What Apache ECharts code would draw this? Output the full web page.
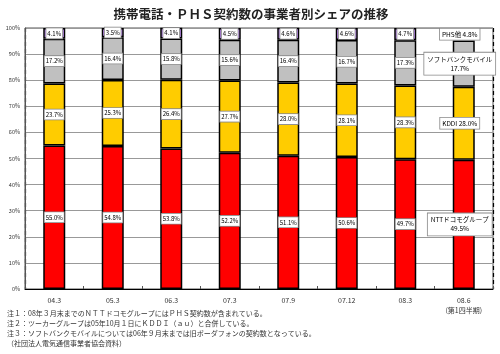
<!DOCTYPE html>
<html>
<head>
<meta charset="utf-8">
<script src="https://cdn.jsdelivr.net/npm/echarts@6/dist/echarts.min.js"></script>
<style>
  html, body { margin: 0; padding: 0; background: #fff; }
  #chart { width: 500px; height: 354px; }
</style>
</head>
<body>
<div id="chart"></div>
<script>
var categories = ['04.3', '05.3', '06.3', '07.3', '07.9', '07.12', '08.3', '08.6\n(第1四半期)'];
var seriesNames = ['NTTドコモグループ', 'KDDI', 'ソフトバンクモバイル', 'PHS他'];
var nttValues = [55.0, 54.8, 53.8, 52.2, 51.1, 50.6, 49.7, 49.5];
var kddiValues = [23.7, 25.3, 26.4, 27.7, 28.0, 28.1, 28.3, 28.0];
var sbValues = [17.2, 16.4, 15.8, 15.6, 16.4, 16.7, 17.3, 17.7];
var phsValues = [4.1, 3.5, 4.1, 4.5, 4.6, 4.6, 4.7, 4.8];
var yTicks = [0, 10, 20, 30, 40, 50, 60, 70, 80, 90, 100];

var colors = ['#ff0000', '#ffcc00', '#c0c0c0', '#cc99ff'];
var notes = [
  '注１：08年３月末までのＮＴＴドコモグループにはＰＨＳ契約数が含まれている。',
  '注２：ツーカーグループは05年10月１日にＫＤＤＩ（ａｕ）と合併している。',
  '注３：ソフトバンクモバイルについては06年９月末までは旧ボーダフォンの契約数となっている。',
  '（社団法人電気通信事業者協会資料）'
];

var lastIdx = categories.length - 1;
var font = '"Noto Sans CJK JP", "Noto Sans", sans-serif';

function makeSeries(name, values, color, idx) {
  return {
    name: name,
    type: 'bar',
    stack: 'share',
    barWidth: 22,
    itemStyle: { color: color, borderColor: '#000', borderWidth: 1.5 },
    label: {
      show: true,
      position: 'inside',
      fontSize: 6,
      fontFamily: font,
      color: '#000',
      backgroundColor: '#fff',
      borderColor: '#888',
      borderWidth: 0.8,
      padding: [1, 1],
      lineHeight: 8,
      align: 'center',
      formatter: function (p) {
        var v = p.value.toFixed(1) + '%';
        if (p.dataIndex === lastIdx) {
          if (idx === 0 || idx === 2) return p.seriesName + '\n' + v;
          return p.seriesName + ' ' + v;
        }
        return v;
      }
    },
    data: values.map(function (v, i) {
      if (i === lastIdx) {
        var big = idx === 0 || idx === 2;
        var item = {
          value: v,
          label: { fontSize: 6.5, lineHeight: 9, padding: big ? [2, 3] : [1, 2], offset: [-4, 0] }
        };
        if (idx === 3) item.itemStyle = { color: 'transparent', borderWidth: 0 };
        return item;
      }
      return v;
    })
  };
}

var chart = echarts.init(document.getElementById('chart'));
chart.setOption({
  animation: false,
  textStyle: { fontFamily: font },
  title: {
    text: '携帯電話・ＰＨＳ契約数の事業者別シェアの推移',
    left: 246,
    textAlign: 'center',
    top: 3,
    textStyle: { fontSize: 12.5, fontWeight: 'bold', color: '#222', fontFamily: font }
  },
  grid: {
    left: 25, right: 7, top: 28, bottom: 65,
    show: true, borderColor: '#555', borderWidth: 1
  },
  xAxis: {
    type: 'category',
    data: categories,
    axisLine: { lineStyle: { color: '#000', width: 1 } },
    axisTick: { show: true, inside: true, length: 3, lineStyle: { color: '#555' } },
    axisLabel: { fontSize: 7, color: '#333', margin: 6, lineHeight: 10, fontFamily: font },
    splitLine: {
      show: true,
      interval: function (index) { return index === 4; },
      lineStyle: { color: '#000', type: [4, 3], width: 1.2 }
    }
  },
  yAxis: {
    type: 'value',
    min: yTicks[0],
    max: yTicks[yTicks.length - 1],
    interval: 10,
    axisLine: { show: true, lineStyle: { color: '#555' } },
    axisTick: { show: false },
    axisLabel: { fontSize: 5.5, color: '#333', margin: 5, formatter: '{value}%' },
    splitLine: { lineStyle: { color: '#999', width: 1 } }
  },
  series: [
    makeSeries(seriesNames[0], nttValues, colors[0], 0),
    makeSeries(seriesNames[1], kddiValues, colors[1], 1),
    makeSeries(seriesNames[2], sbValues, colors[2], 2),
    makeSeries(seriesNames[3], phsValues, colors[3], 3)
  ],
  graphic: notes.map(function (t, i) {
    return {
      type: 'text',
      left: 7,
      top: 310 + i * 10,
      style: { text: t, fontSize: 7, fill: '#333', fontFamily: font }
    };
  })
});
</script>
</body>
</html>
